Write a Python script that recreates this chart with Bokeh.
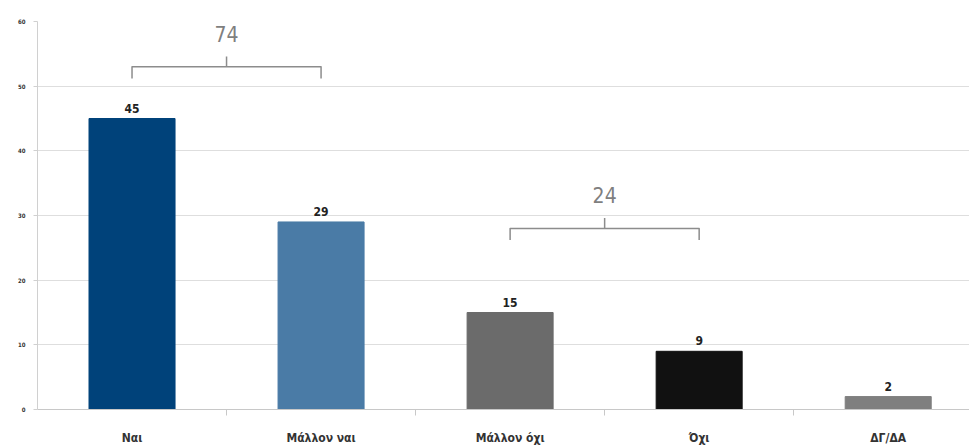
from bokeh.plotting import figure
from bokeh.models import Range1d, FixedTicker, ColumnDataSource
from bokeh.core.properties import value
from bokeh.embed import file_html
from bokeh.resources import INLINE

categories = ["Ναι", "Μάλλον ναι", "Μάλλον όχι", "Όχι", "ΔΓ/ΔΑ"]
values = [45, 29, 15, 9, 2]
colors = ["#00427A", "#4A7BA6", "#6B6B6B", "#111111", "#7F7F7F"]
y_ticks = [0, 10, 20, 30, 40, 50, 60]

# grouped totals (brackets): label, first idx, last idx, bracket line level
group_labels = ["74", "24"]
group_first = [0, 2]
group_last = [1, 3]
group_level = [53.0, 28.0]

FONT = "DejaVu Sans Condensed, Liberation Sans Narrow, Liberation Sans, sans-serif"

xs = list(range(len(categories)))
src = ColumnDataSource(dict(x=xs, top=values, color=colors,
                            label=[str(v) for v in values]))

p = figure(width=969, height=447, output_backend="svg",
           toolbar_location=None,
           x_range=Range1d(-0.5, 4.43), y_range=Range1d(0, 60),
           min_border_left=37, min_border_right=0, min_border_top=21,
           min_border_bottom=38)
p.outline_line_color = None
p.background_fill_color = "white"
p.border_fill_color = "white"

p.vbar(x="x", top="top", width=0.455, bottom=0, color="color", source=src)
p.text(x="x", y="top", text="label", source=src, text_align="center",
       text_baseline="bottom", y_offset=-6, text_font=value(FONT),
       text_font_style="bold", text_font_size="12px", text_color="#222222")

# brackets
for lab, a, b, lvl in zip(group_labels, group_first, group_last, group_level):
    mid = (a + b) / 2
    p.line(x=[a, a, b, b], y=[lvl - 1.8, lvl, lvl, lvl - 1.8],
           line_color="#8C8C8C", line_width=1.5, line_join="round")
    p.line(x=[mid, mid], y=[lvl, lvl + 1.6], line_color="#8C8C8C",
           line_width=1.5)
    p.text(x=[mid], y=[lvl + 5.1], text=[lab], text_align="center",
           text_baseline="middle", text_font=value(FONT),
           text_font_size="21px", text_color="#7F7F7F")

# y axis
p.yaxis.ticker = FixedTicker(ticks=y_ticks)
p.yaxis.axis_line_color = "#D0D0D0"
p.yaxis.major_tick_line_color = "#D0D0D0"
p.yaxis.major_tick_out = 4
p.yaxis.major_tick_in = 0
p.yaxis.minor_tick_line_color = None
p.yaxis.major_label_text_font = FONT
p.yaxis.major_label_text_font_size = "6px"
p.yaxis.major_label_text_font_style = "bold"
p.yaxis.major_label_text_color = "#333333"
p.yaxis.major_label_standoff = 8

# x axis
p.xaxis.ticker = FixedTicker(ticks=xs, minor_ticks=[i + 0.5 for i in xs[:-1]])
p.xaxis.major_label_overrides = {i: c for i, c in zip(xs, categories)}
p.xaxis.axis_line_color = "#C8C8C8"
p.xaxis.major_tick_line_color = None
p.xaxis.major_tick_out = 0
p.xaxis.major_tick_in = 0
p.xaxis.minor_tick_line_color = "#C8C8C8"
p.xaxis.minor_tick_out = 6
p.xaxis.minor_tick_in = 0
p.xaxis.major_label_text_font = FONT
p.xaxis.major_label_text_font_size = "12px"
p.xaxis.major_label_text_font_style = "bold"
p.xaxis.major_label_text_color = "#333333"
p.xaxis.major_label_standoff = 15

p.xgrid.grid_line_color = None
p.ygrid.ticker = FixedTicker(ticks=y_ticks)
p.ygrid.grid_line_color = "#DEDEDE"

open("out.html", "w").write(file_html(p, INLINE))
